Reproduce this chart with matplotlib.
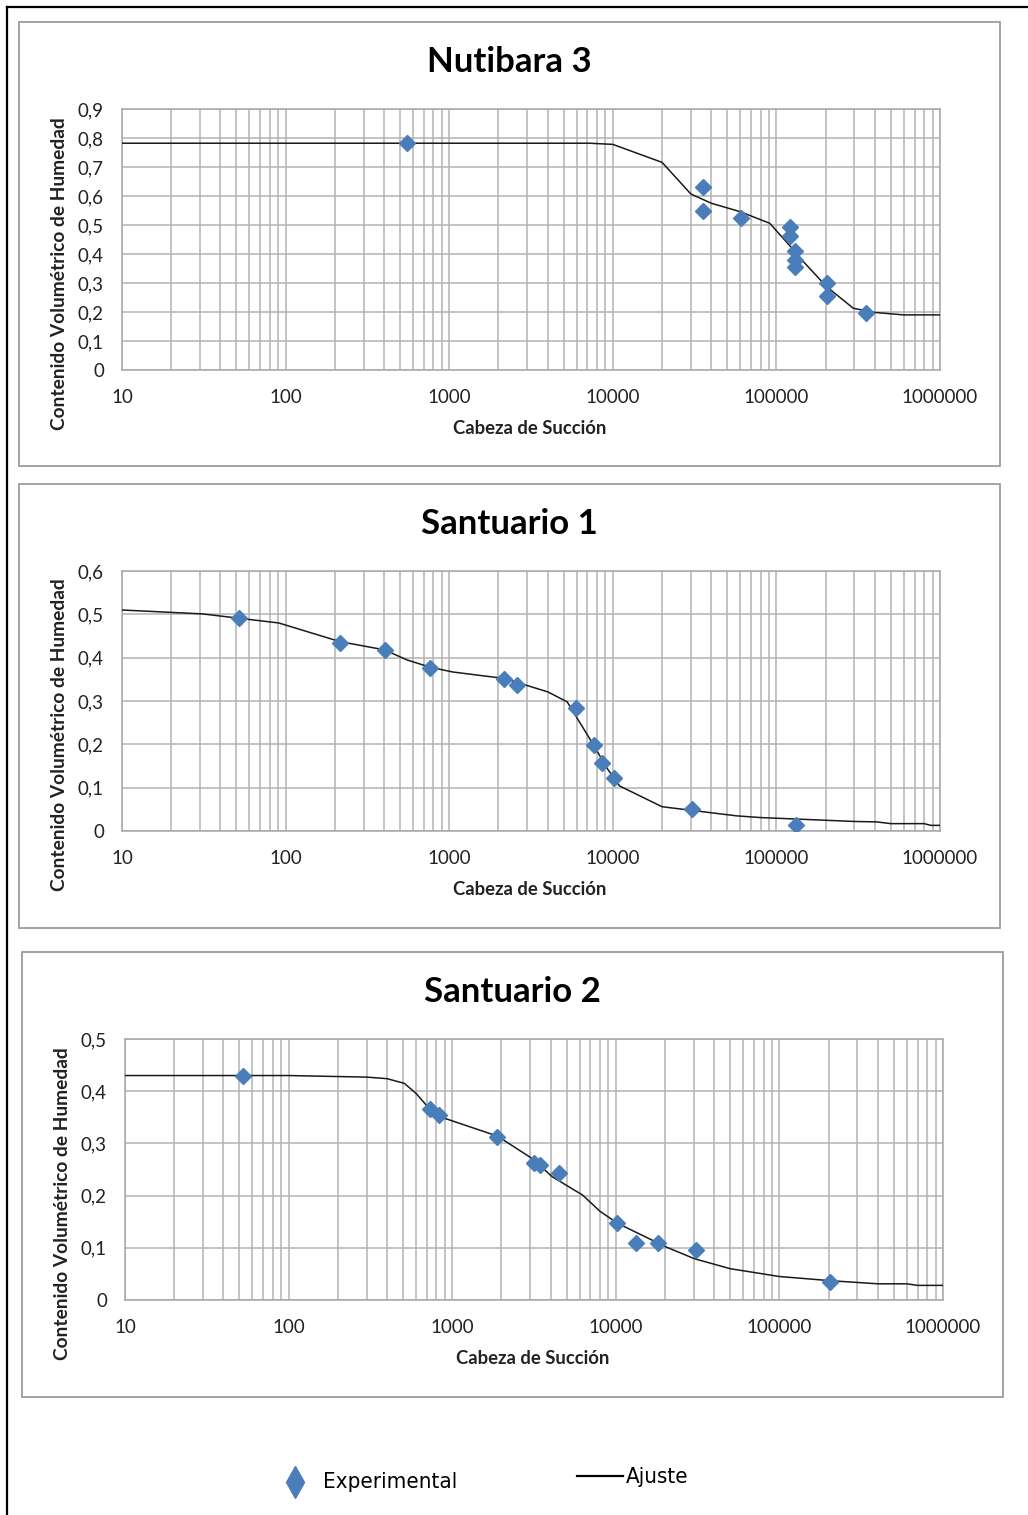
import numpy as np
import matplotlib
matplotlib.use("Agg")
import matplotlib.pyplot as plt
from matplotlib.ticker import LogLocator, NullFormatter, FixedLocator
from matplotlib.patches import Rectangle
from matplotlib.lines import Line2D

# Datos
titulos = ["Nutibara 3", "Santuario 1", "Santuario 2"]

nut_x = [552, 35700, 35700, 60500, 121000, 121000, 130000, 130000, 130000, 203000, 203000, 353000]
nut_y = [0.783, 0.630, 0.549, 0.523, 0.493, 0.462, 0.411, 0.379, 0.354, 0.301, 0.256, 0.196]
nut_fit_x = [10, 7200, 10000, 20000, 30000, 40000, 60000, 91000, 121000, 146000, 203000, 295000, 390000, 600000, 1000000]
nut_fit_y = [0.782, 0.782, 0.778, 0.716, 0.607, 0.575, 0.546, 0.506, 0.428, 0.374, 0.287, 0.213, 0.199, 0.190, 0.190]

s1_x = [52, 215, 403, 764, 2170, 2590, 5960, 7640, 8530, 10200, 30700, 132000]
s1_y = [0.492, 0.435, 0.418, 0.376, 0.350, 0.336, 0.283, 0.198, 0.158, 0.123, 0.050, 0.014]
s1_fit_x = [10, 31, 52, 91, 215, 403, 550, 764, 1050, 2170, 4010, 5260, 7280, 9330, 11000,
            20000, 57000, 80000, 300000, 410000, 500000, 800000, 880000, 1000000]
s1_fit_y = [0.510, 0.501, 0.491, 0.480, 0.437, 0.418, 0.395, 0.378, 0.367, 0.352, 0.321, 0.298,
            0.211, 0.142, 0.104, 0.056, 0.035, 0.031, 0.022, 0.021, 0.017, 0.017, 0.013, 0.013]

s2_x = [53, 728, 828, 1890, 3150, 3420, 4500, 10200, 13300, 18200, 30900, 205000]
s2_y = [0.430, 0.366, 0.354, 0.313, 0.263, 0.258, 0.244, 0.147, 0.109, 0.109, 0.095, 0.034]
s2_fit_x = [10, 100, 300, 400, 510, 600, 728, 900, 1890, 3080, 4090, 6270, 8000, 10240,
            20500, 30300, 50000, 100000, 205000, 400000, 600000, 700000, 1000000]
s2_fit_y = [0.430, 0.430, 0.427, 0.424, 0.415, 0.396, 0.366, 0.348, 0.314, 0.271, 0.236, 0.201,
            0.170, 0.147, 0.101, 0.079, 0.060, 0.045, 0.037, 0.031, 0.031, 0.028, 0.028]

x_ticks = [10, 100, 1000, 10000, 100000, 1000000]
x_tick_labels = ["10", "100", "1000", "10000", "100000", "1000000"]
y_max = [0.9, 0.6, 0.5]

W, H = 1028, 1515
fig = plt.figure(figsize=(W / 100, H / 100), dpi=100)

def fx(px):
    return px / W

def fy(py):
    return 1 - py / H

def rect(x0, y0, x1, y1):
    return [fx(x0), fy(y1), fx(x1) - fx(x0), fy(y0) - fy(y1)]

fuente = ["Lato", "DejaVu Sans"]
azul = "#4a7ebb"
gris = "#b3b3b3"

# Borde exterior (arriba e izquierda)
fig.add_artist(Line2D([fx(7), fx(7)], [fy(7), fy(1515)], color="black", lw=1.6))
fig.add_artist(Line2D([fx(7), fx(1028)], [fy(7), fy(7)], color="black", lw=1.6))

# Posiciones en pixeles de cada panel
marcos = [(19, 22, 1000, 466), (19, 484, 1000, 928), (22, 952, 1003, 1397)]
ejes = [(122, 109, 940, 370), (122, 571, 940, 831), (125, 1039, 943, 1300)]

datos = [(nut_x, nut_y, nut_fit_x, nut_fit_y),
         (s1_x, s1_y, s1_fit_x, s1_fit_y),
         (s2_x, s2_y, s2_fit_x, s2_fit_y)]

for i in range(3):
    mx0, my0, mx1, my1 = marcos[i]
    fig.add_artist(Rectangle((fx(mx0), fy(my1)), fx(mx1) - fx(mx0), fy(my0) - fy(my1),
                             transform=fig.transFigure, fill=False, edgecolor="#9c9c9c", lw=1.3))

    ax0, ay0, ax1, ay1 = ejes[i]
    ax = fig.add_axes(rect(ax0, ay0, ax1, ay1))
    xe, ye, xf, yf = datos[i]

    ax.plot(xf, yf, color="#1a1a1a", lw=1.1, zorder=3)
    ax.plot(xe, ye, linestyle="none", marker="D", markersize=8.5, color=azul,
            markeredgecolor=azul, zorder=4)

    ax.set_xscale("log")
    ax.set_xlim(10, 1e6)
    ax.set_ylim(0, y_max[i])

    ax.xaxis.set_major_locator(FixedLocator(x_ticks))
    ax.set_xticklabels(x_tick_labels)
    ax.xaxis.set_minor_locator(LogLocator(base=10, subs=range(2, 10), numticks=20))
    ax.xaxis.set_minor_formatter(NullFormatter())

    yt = np.round(np.arange(0, y_max[i] + 0.001, 0.1), 1)
    ax.set_yticks(yt)
    ax.set_yticklabels(["0" if v == 0 else ("%.1f" % v).replace(".", ",") for v in yt])

    ax.grid(True, which="major", color=gris, lw=1.1)
    ax.grid(True, which="minor", axis="x", color=gris, lw=1.1)
    ax.set_axisbelow(True)
    for s in ax.spines.values():
        s.set_color("#a8a8a8")
        s.set_linewidth(1.1)

    ax.tick_params(axis="both", which="both", length=0, labelsize=13.5, colors="#222222")
    ax.tick_params(axis="x", pad=14)
    ax.tick_params(axis="y", pad=13)
    for t in ax.get_xticklabels() + ax.get_yticklabels():
        t.set_family(fuente)

    # Textos
    cx = (mx0 + mx1) / 2
    fig.text(fx(cx), fy(my0 + 40), titulos[i], ha="center", va="center",
             fontsize=25, fontweight="bold", family=fuente, color="black")
    fig.text(fx(cx + 20), fy(ay1 + 58), "Cabeza de Succión", ha="center", va="center",
             fontsize=13.3, fontweight="bold", family=fuente, color="#222222")
    fig.text(fx(ax0 - 62), fy((ay0 + ay1) / 2 + 34), "Contenido Volumétrico de Humedad",
             ha="center", va="center", rotation=90, fontsize=13.8, fontweight="bold",
             family=fuente, color="#222222")

# Leyenda
fig.add_artist(Line2D([fx(295)], [fy(1482)], marker="d", markersize=16, color=azul,
                      markeredgecolor=azul, linestyle="none"))
fig.text(fx(323), fy(1482), "Experimental", ha="left", va="center", fontsize=16,
         family="DejaVu Sans", fontstretch="condensed", color="black")
fig.add_artist(Line2D([fx(577), fx(623)], [fy(1476), fy(1476)], color="black", lw=1.6))
fig.text(fx(626), fy(1477), "Ajuste", ha="left", va="center", fontsize=16,
         family="DejaVu Sans", fontstretch="condensed", color="black")

fig.savefig("out.png", dpi=100)
